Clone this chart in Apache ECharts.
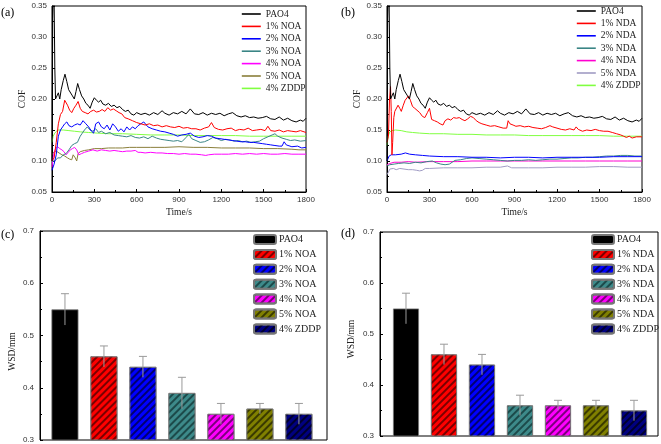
<!DOCTYPE html>
<html><head><meta charset="utf-8">
<script src="https://cdn.jsdelivr.net/npm/echarts@6/dist/echarts.min.js"></script>
<style>html,body{margin:0;padding:0;background:#fff}#c{width:661px;height:444px}</style>
</head><body><div id="c"></div>
<script>
// ---------- COF data, panel (a) and (b): [time s, COF] ----------
const pao4 = [[0,0.10],[5,0.33],[10,0.37],[15,0.36],[20,0.25],[25,0.20],[35,0.20],[45,0.21],[55,0.20],[65,0.215],[80,0.23],[92,0.24],[105,0.228],[118,0.215],[130,0.212],[145,0.205],[158,0.20],[170,0.212],[182,0.225],[195,0.215],[210,0.205],[225,0.20],[240,0.193],[255,0.19],[270,0.185],[285,0.195],[300,0.202],[315,0.198],[330,0.195],[345,0.198],[360,0.192],[380,0.19],[400,0.193],[420,0.188],[440,0.19],[460,0.186],[480,0.188],[500,0.183],[520,0.18],[540,0.182],[560,0.176],[580,0.174],[600,0.178],[630,0.175],[660,0.177],[690,0.174],[720,0.178],[750,0.175],[780,0.181],[800,0.177],[830,0.174],[860,0.178],[890,0.176],[920,0.18],[950,0.176],[980,0.184],[1010,0.176],[1040,0.175],[1070,0.178],[1100,0.174],[1130,0.177],[1160,0.175],[1190,0.177],[1220,0.173],[1250,0.176],[1280,0.178],[1310,0.173],[1340,0.171],[1370,0.173],[1400,0.17],[1430,0.171],[1460,0.169],[1490,0.17],[1520,0.172],[1550,0.168],[1580,0.167],[1610,0.171],[1640,0.166],[1670,0.169],[1700,0.165],[1730,0.163],[1760,0.166],[1780,0.164],[1800,0.169]];
const noa1 = [[0,0.10],[15,0.105],[30,0.13],[45,0.16],[60,0.175],[75,0.18],[90,0.198],[100,0.2],[110,0.19],[125,0.182],[140,0.178],[155,0.185],[170,0.19],[185,0.196],[200,0.185],[215,0.18],[235,0.178],[255,0.176],[275,0.18],[295,0.182],[315,0.179],[335,0.18],[355,0.183],[375,0.18],[395,0.186],[415,0.182],[435,0.184],[455,0.181],[475,0.178],[495,0.176],[515,0.17],[540,0.168],[570,0.165],[600,0.162],[630,0.16],[660,0.158],[690,0.16],[720,0.157],[750,0.158],[780,0.155],[810,0.157],[840,0.155],[870,0.154],[900,0.156],[930,0.153],[960,0.154],[990,0.152],[1020,0.152],[1050,0.15],[1080,0.153],[1110,0.155],[1130,0.162],[1150,0.154],[1180,0.151],[1210,0.15],[1240,0.152],[1270,0.153],[1300,0.149],[1330,0.151],[1360,0.15],[1390,0.153],[1420,0.149],[1450,0.15],[1480,0.151],[1510,0.149],[1530,0.156],[1550,0.149],[1580,0.148],[1610,0.15],[1640,0.147],[1670,0.149],[1700,0.148],[1730,0.147],[1760,0.149],[1800,0.146]];
const noa2 = [[0,0.085],[15,0.095],[30,0.11],[45,0.14],[60,0.15],[75,0.155],[90,0.16],[105,0.163],[120,0.157],[140,0.155],[160,0.158],[180,0.16],[200,0.158],[220,0.165],[240,0.16],[260,0.155],[280,0.148],[295,0.145],[310,0.16],[330,0.163],[350,0.155],[370,0.152],[390,0.158],[410,0.15],[430,0.16],[450,0.155],[470,0.148],[490,0.152],[510,0.147],[530,0.155],[550,0.15],[570,0.155],[590,0.152],[610,0.157],[630,0.16],[650,0.163],[680,0.155],[710,0.152],[740,0.15],[770,0.148],[800,0.147],[830,0.145],[860,0.143],[890,0.14],[920,0.142],[950,0.143],[980,0.145],[1010,0.14],[1040,0.138],[1070,0.139],[1100,0.141],[1130,0.14],[1160,0.137],[1190,0.136],[1220,0.135],[1250,0.134],[1280,0.133],[1310,0.132],[1340,0.131],[1370,0.131],[1400,0.13],[1430,0.13],[1460,0.129],[1490,0.128],[1520,0.127],[1550,0.126],[1580,0.125],[1610,0.124],[1630,0.124],[1645,0.131],[1660,0.126],[1700,0.123],[1740,0.124],[1770,0.121],[1800,0.122]];
const noa3 = [[0,0.10],[20,0.10],[40,0.105],[60,0.105],[80,0.11],[100,0.112],[120,0.118],[140,0.125],[160,0.128],[180,0.13],[200,0.14],[215,0.145],[230,0.15],[250,0.155],[270,0.15],[290,0.148],[310,0.152],[330,0.146],[350,0.148],[380,0.144],[410,0.146],[440,0.142],[470,0.141],[500,0.14],[530,0.139],[560,0.141],[590,0.138],[620,0.137],[650,0.139],[680,0.136],[710,0.14],[740,0.137],[770,0.135],[800,0.134],[830,0.133],[860,0.132],[890,0.133],[920,0.131],[950,0.138],[970,0.143],[990,0.136],[1020,0.133],[1050,0.13],[1080,0.131],[1110,0.134],[1140,0.138],[1170,0.136],[1200,0.133],[1230,0.135],[1260,0.134],[1290,0.132],[1320,0.133],[1350,0.131],[1380,0.132],[1410,0.13],[1440,0.131],[1470,0.132],[1500,0.136],[1530,0.139],[1560,0.142],[1580,0.144],[1600,0.14],[1630,0.137],[1660,0.135],[1690,0.133],[1720,0.134],[1760,0.132],[1800,0.133]];
const noa4 = [[0,0.09],[10,0.11],[25,0.12],[40,0.123],[55,0.12],[70,0.118],[85,0.115],[100,0.11],[115,0.114],[130,0.118],[145,0.12],[160,0.122],[175,0.118],[190,0.11],[210,0.112],[230,0.114],[260,0.116],[290,0.118],[320,0.116],[350,0.118],[380,0.117],[410,0.116],[440,0.117],[470,0.116],[500,0.115],[530,0.116],[560,0.116],[590,0.117],[610,0.114],[630,0.114],[660,0.113],[700,0.114],[740,0.113],[780,0.113],[820,0.112],[860,0.112],[900,0.111],[940,0.112],[980,0.111],[1020,0.111],[1060,0.11],[1090,0.109],[1110,0.11],[1150,0.111],[1200,0.111],[1250,0.111],[1300,0.112],[1350,0.111],[1400,0.112],[1450,0.111],[1500,0.112],[1550,0.111],[1600,0.111],[1650,0.112],[1700,0.111],[1750,0.111],[1800,0.111]];
const noa5 = [[0,0.11],[15,0.115],[30,0.116],[50,0.113],[70,0.11],[90,0.108],[110,0.105],[125,0.103],[140,0.102],[150,0.11],[158,0.113],[165,0.105],[175,0.10],[185,0.112],[200,0.115],[230,0.117],[260,0.118],[300,0.12],[350,0.12],[400,0.121],[450,0.121],[500,0.121],[550,0.122],[600,0.122],[700,0.122],[800,0.122],[900,0.123],[1000,0.122],[1100,0.122],[1200,0.121],[1300,0.121],[1400,0.121],[1500,0.12],[1600,0.12],[1700,0.119],[1750,0.118],[1800,0.118]];
const zddpA = [[0,0.13],[8,0.14],[20,0.145],[40,0.15],[80,0.15],[120,0.149],[160,0.148],[200,0.147],[260,0.146],[320,0.145],[400,0.144],[500,0.144],[600,0.143],[700,0.142],[800,0.142],[900,0.142],[1000,0.141],[1100,0.141],[1200,0.141],[1300,0.141],[1400,0.14],[1500,0.14],[1600,0.14],[1700,0.14],[1800,0.14]];
const nda1 = [[0,0.13],[10,0.14],[18,0.20],[25,0.22],[30,0.18],[35,0.11],[40,0.13],[48,0.17],[55,0.18],[65,0.178],[78,0.19],[90,0.185],[101,0.18],[115,0.19],[128,0.198],[140,0.2],[152,0.205],[165,0.198],[180,0.188],[196,0.185],[210,0.182],[231,0.178],[250,0.172],[267,0.17],[285,0.178],[300,0.185],[315,0.167],[335,0.165],[355,0.163],[375,0.16],[395,0.158],[410,0.165],[430,0.168],[450,0.166],[470,0.17],[490,0.169],[510,0.17],[530,0.167],[550,0.165],[570,0.168],[590,0.172],[610,0.17],[630,0.165],[650,0.162],[670,0.16],[700,0.158],[730,0.156],[760,0.157],[790,0.155],[820,0.153],[845,0.153],[855,0.165],[868,0.16],[890,0.158],[910,0.156],[940,0.157],[970,0.155],[1000,0.156],[1030,0.154],[1060,0.153],[1090,0.152],[1120,0.154],[1150,0.157],[1170,0.155],[1200,0.153],[1230,0.151],[1260,0.15],[1290,0.152],[1320,0.15],[1335,0.155],[1350,0.151],[1380,0.148],[1410,0.15],[1440,0.149],[1470,0.151],[1500,0.149],[1530,0.148],[1560,0.148],[1590,0.146],[1620,0.144],[1650,0.142],[1670,0.14],[1690,0.138],[1710,0.14],[1730,0.137],[1760,0.139],[1800,0.139]];
const nda2 = [[0,0.10],[15,0.108],[30,0.11],[60,0.11],[100,0.111],[130,0.113],[160,0.111],[200,0.11],[250,0.109],[300,0.108],[400,0.107],[500,0.107],[600,0.106],[700,0.106],[800,0.105],[900,0.106],[1000,0.106],[1100,0.105],[1200,0.106],[1300,0.106],[1400,0.106],[1500,0.106],[1600,0.107],[1700,0.107],[1800,0.107]];
const nda3 = [[0,0.092],[20,0.094],[50,0.095],[80,0.096],[120,0.097],[160,0.096],[200,0.098],[240,0.097],[280,0.099],[320,0.1],[350,0.097],[380,0.095],[410,0.094],[440,0.095],[460,0.098],[480,0.101],[520,0.102],[560,0.104],[600,0.105],[650,0.104],[700,0.103],[750,0.102],[800,0.101],[850,0.1],[900,0.101],[950,0.101],[1000,0.102],[1050,0.101],[1100,0.102],[1150,0.103],[1200,0.103],[1250,0.104],[1300,0.105],[1350,0.105],[1400,0.106],[1450,0.106],[1500,0.107],[1550,0.108],[1600,0.108],[1650,0.109],[1700,0.109],[1750,0.108],[1800,0.108]];
const nda4 = [[0,0.094],[20,0.096],[50,0.098],[100,0.098],[150,0.099],[200,0.098],[300,0.099],[400,0.099],[500,0.099],[600,0.1],[700,0.1],[800,0.1],[900,0.1],[1000,0.1],[1100,0.1],[1200,0.1],[1300,0.1],[1400,0.1],[1500,0.1],[1600,0.1],[1700,0.1],[1800,0.1]];
const nda5 = [[0,0.078],[10,0.082],[20,0.087],[30,0.085],[45,0.088],[65,0.086],[90,0.088],[120,0.087],[150,0.086],[180,0.086],[210,0.085],[230,0.084],[250,0.085],[270,0.088],[300,0.088],[400,0.089],[500,0.089],[600,0.089],[700,0.09],[800,0.09],[850,0.092],[880,0.089],[1000,0.089],[1100,0.089],[1200,0.09],[1300,0.09],[1400,0.09],[1500,0.091],[1600,0.091],[1700,0.09],[1800,0.09]];
const zddpB = [[0,0.125],[8,0.14],[20,0.147],[35,0.149],[60,0.15],[100,0.149],[140,0.147],[180,0.146],[230,0.145],[300,0.144],[400,0.144],[500,0.143],[600,0.143],[700,0.142],[800,0.142],[900,0.142],[1000,0.141],[1100,0.141],[1200,0.141],[1300,0.141],[1400,0.141],[1500,0.141],[1600,0.14],[1700,0.14],[1800,0.14]];

// ---------- WSD data, panels (c) and (d) ----------
const namesC = ['PAO4','1% NOA','2% NOA','3% NOA','4% NOA','5% NOA','4% ZDDP'];
const namesD = ['PAO4','1% NDA','2% NDA','3% NDA','4% NDA','5% NDA','4% ZDDP'];
const wsdC = [0.55,0.46,0.44,0.39,0.35,0.36,0.35];
const errC = [0.03,0.02,0.02,0.03,0.02,0.01,0.02];
const wsdD = [0.55,0.46,0.44,0.36,0.36,0.36,0.35];
const errD = [0.03,0.02,0.02,0.02,0.01,0.01,0.02];
const yTicksCOF = [0.05,0.35,0.05];
const yTicksWSD = [0.3,0.7,0.1];

const namesA = ['PAO4','1% NOA','2% NOA','3% NOA','4% NOA','5% NOA','4% ZDDP'];
const namesB = ['PAO4','1% NDA','2% NDA','3% NDA','4% NDA','5% NDA','4% ZDDP'];
const linesA = [pao4,noa1,noa2,noa3,noa4,noa5,zddpA];
const linesB = [pao4,nda1,nda2,nda3,nda4,nda5,zddpB];
const colA = ['#000000','#ff0000','#0000ff','#3a8585','#ff00ff','#8a7f3a','#80ff40'];
const colB = ['#000000','#ff0000','#0000ff','#3a8585','#ff00d0','#a09cc4','#80ff40'];
const barCol = ['#000000','#ff0000','#0000ff','#3d8a8a','#ff00ff','#808000','#000080'];
const hatchCol = ['#000000','#7a0000','#00006e','#1c4a4a','#7a007a','#3a3a00','#00002e'];

const serif = 'Liberation Serif';
const sans = 'Liberation Sans';
const chart = echarts.init(document.getElementById('c'));

const grids = [
  {left:52, top:6, width:254, height:186},
  {left:387, top:6, width:255, height:186},
  {left:40, top:231, width:287, height:209},
  {left:380, top:232, width:278, height:204}
].map(g => Object.assign({show:true, borderColor:'#000', borderWidth:1, backgroundColor:'transparent'}, g));

function lineX(i){
  return {type:'value', gridIndex:i, min:0, max:1800, interval:300,
    name:'Time/s', nameLocation:'middle', nameGap:15,
    nameTextStyle:{fontFamily:serif, fontSize:9.5, color:'#222'},
    axisLine:{lineStyle:{color:'#000'}}, axisTick:{inside:true, length:3, lineStyle:{color:'#000'}},
    minorTick:{show:true, splitNumber:2, length:2, lineStyle:{color:'#000'}},
    splitLine:{show:false},
    axisLabel:{fontFamily:sans, fontSize:8, color:'#333', margin:4, formatter:v=>String(v)}};
}
function lineY(i){
  return {type:'value', gridIndex:i, min:yTicksCOF[0], max:yTicksCOF[1], interval:yTicksCOF[2],
    name:'COF', nameLocation:'middle', nameGap:25,
    nameTextStyle:{fontFamily:serif, fontSize:9.5, color:'#222'},
    axisLine:{lineStyle:{color:'#000'}}, axisTick:{inside:true, length:3, lineStyle:{color:'#000'}},
    minorTick:{show:true, splitNumber:2, length:2, lineStyle:{color:'#000'}},
    splitLine:{show:false},
    axisLabel:{fontFamily:sans, fontSize:8, color:'#333', margin:5, formatter:v=>v.toFixed(2)}};
}
function barX(i, mn, mx){
  return {type:'value', gridIndex:i, min:mn, max:mx, show:false, splitLine:{show:false}};
}
function barY(i, gap, pad){
  return {type:'value', gridIndex:i, min:yTicksWSD[0], max:yTicksWSD[1], interval:yTicksWSD[2],
    name:'WSD/mm', nameLocation:'middle', nameGap:gap,
    nameTextStyle:{fontFamily:serif, fontSize:9.5, color:'#222', padding:[0,pad,0,0]},
    axisLine:{lineStyle:{color:'#000'}}, axisTick:{inside:true, length:3, lineStyle:{color:'#000'}},
    minorTick:{show:true, splitNumber:2, length:2, lineStyle:{color:'#000'}},
    splitLine:{show:false},
    axisLabel:{fontFamily:sans, fontSize:8, color:'#333', margin:6, formatter:v=>v.toFixed(1)}};
}

const series = [];
function addLines(prefix, names, data, cols, gi){
  names.forEach((n,k)=>{
    series.push({type:'line', name:prefix+'|'+n, xAxisIndex:gi, yAxisIndex:gi, data:data[k],
      showSymbol:false, symbol:'none', color:cols[k], lineStyle:{width:1, color:cols[k]}, z: 10-k, animation:false});
  });
}
function addBars(prefix, names, vals, errs, gi, bw){
  names.forEach((n,k)=>{
    const style = {color:barCol[k], borderColor:'#777', borderWidth:0.8};
    if (k>0) style.decal = {symbol:'rect', symbolSize:1, dashArrayX:[1,0], dashArrayY:[1.4,2.6], rotation:-Math.PI/4, color:hatchCol[k]};
    series.push({type:'bar', name:prefix+'|'+n, xAxisIndex:gi, yAxisIndex:gi, barWidth:bw, barGap:'-100%',
      data:[[k+1, vals[k]]], itemStyle:style, animation:false});
  });
  series.push({type:'custom', name:prefix+'|err', xAxisIndex:gi, yAxisIndex:gi, z:20, animation:false,
    data: vals.map((v,k)=>[k+1, v-errs[k], v+errs[k]]),
    encode:{x:0, y:[1,2]},
    renderItem:(params, api)=>{
      const x = api.value(0);
      const lo = api.coord([x, api.value(1)]);
      const hi = api.coord([x, api.value(2)]);
      const st = {stroke:'#9a9a9a', lineWidth:1};
      return {type:'group', children:[
        {type:'line', shape:{x1:lo[0], y1:lo[1], x2:hi[0], y2:hi[1]}, style:st},
        {type:'line', shape:{x1:hi[0]-4, y1:hi[1], x2:hi[0]+4, y2:hi[1]}, style:st}
      ]};
    }});
}
addLines('a', namesA, linesA, colA, 0);
addLines('b', namesB, linesB, colB, 1);
addBars('c', namesC, wsdC, errC, 2, 27);
addBars('d', namesD, wsdD, errD, 3, 26);

const fmt = n => n.split('|')[1];
function lineLegend(prefix, names, left, top){
  return {orient:'vertical', left:left, top:top, padding:0, itemGap:2.4, itemWidth:19, itemHeight:9,
    data:names.map(n=>prefix+'|'+n), formatter:fmt, selectedMode:false,
    itemStyle:{opacity:0}, lineStyle:{width:1.6, opacity:1}, textStyle:{fontFamily:serif, fontSize:9.5, color:'#222'}};
}
function barLegend(prefix, names, left, top){
  return {orient:'vertical', left:left, top:top, padding:0, itemGap:3.9, itemWidth:22, itemHeight:9,
    data:names.map(n=>prefix+'|'+n), formatter:fmt, selectedMode:false,
    textStyle:{fontFamily:serif, fontSize:10, color:'#222', padding:[0,0,0,-2]}};
}

const panelLabel = (t, x, y) => ({type:'text', left:x, top:y, style:{text:t, font:'12px "Liberation Serif"', fill:'#000'}});

chart.setOption({
  animation:false,
  grid:grids,
  xAxis:[lineX(0), lineX(1), barX(2, 0.36, 7.72), barX(3, 0.316, 7.632)],
  yAxis:[lineY(0), lineY(1), barY(2, 23, 32), barY(3, 24, 10)],
  legend:[lineLegend('a', namesA, 241, 9), lineLegend('b', namesB, 576, 6),
          barLegend('c', namesC, 253, 234), barLegend('d', namesD, 591, 234)],
  graphic:[panelLabel('(a)', 1, 7), panelLabel('(b)', 341, 7), panelLabel('(c)', 1, 229), panelLabel('(d)', 341, 228)],
  series:series
});
</script></body></html>
